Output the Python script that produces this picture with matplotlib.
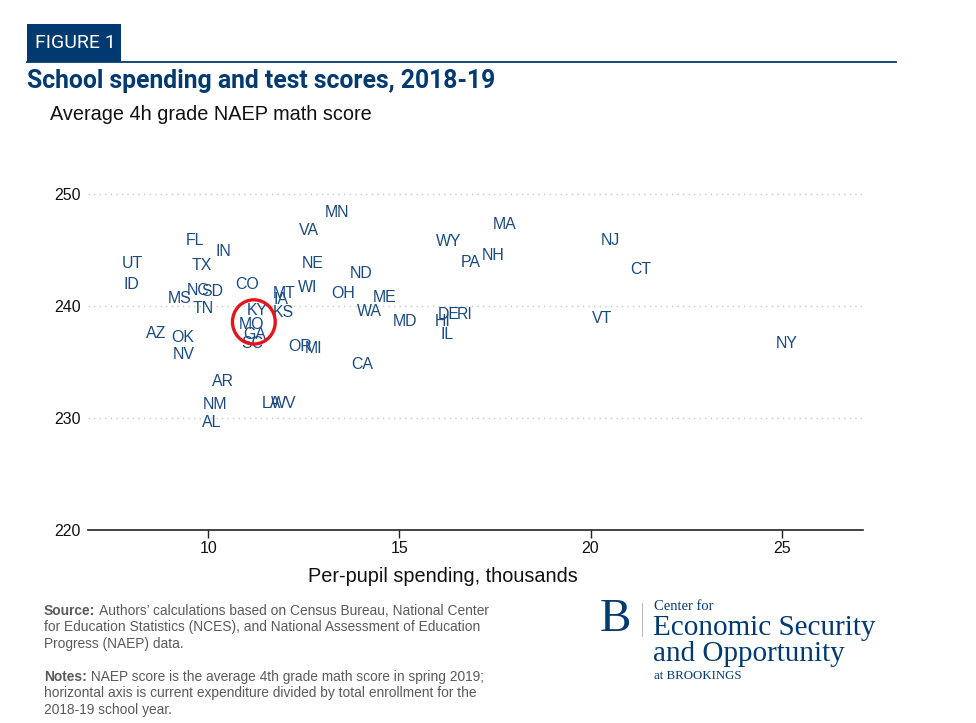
import matplotlib
matplotlib.use("Agg")
import matplotlib.pyplot as plt
from matplotlib.patches import Ellipse, Rectangle
from matplotlib.lines import Line2D

# ---------------- data ----------------
states = ["UT", "ID", "FL", "IN", "TX", "NC", "SD", "MS", "TN", "CO",
          "AZ", "OK", "NV", "KY", "MO", "GA", "SC", "MT", "IA", "KS",
          "NE", "WI", "VA", "MN", "OR", "MI", "OH", "ND", "ME", "WA",
          "CA", "MD", "AR", "NM", "AL", "LA", "WV", "WY", "MA", "PA",
          "NH", "DE", "RI", "HI", "IL", "NJ", "CT", "VT", "NY"]
spending = [8.01, 7.98, 9.65, 10.40, 9.83, 9.74, 10.10, 9.26, 9.87, 11.02,
            8.63, 9.33, 9.35, 11.27, 11.14, 11.22, 11.14, 11.99, 11.90, 11.95,
            12.72, 12.60, 12.63, 13.37, 12.41, 12.75, 13.53, 13.99, 14.60, 14.21,
            14.03, 15.15, 10.38, 10.17, 10.09, 11.66, 11.96, 16.30, 17.74, 16.86,
            17.45, 16.28, 16.71, 16.13, 16.24, 20.51, 21.31, 20.31, 25.13]
scores = [243.8, 241.9, 245.9, 244.9, 243.6, 241.4, 241.3, 240.7, 239.8, 241.9,
          237.6, 237.2, 235.7, 239.6, 238.4, 237.5, 236.7, 241.1, 240.6, 239.4,
          243.8, 241.7, 246.8, 248.4, 236.4, 236.2, 241.1, 242.9, 240.8, 239.5,
          234.8, 238.6, 233.3, 231.2, 229.6, 231.3, 231.3, 245.8, 247.3, 243.9,
          244.5, 239.3, 239.3, 238.6, 237.5, 245.9, 243.3, 238.9, 236.7]
x_ticks = [10, 15, 20, 25]
y_ticks = [220, 230, 240, 250]
highlight_center = (11.19, 238.6)

NAVY = "#003A70"
LABEL = "#1B4A7E"
W, H = 976, 723

def fx(px):
    return px / W

def fy(py):
    return 1 - py / H

fig = plt.figure(figsize=(9.76, 7.23), dpi=100)
fig.patch.set_facecolor("white")

ax = fig.add_axes([fx(88), fy(530), (863 - 88) / W, (530 - 172) / H])
ax.set_xlim(6.85, 27.13)
ax.set_ylim(220, 252)

for s, x, y in zip(states, spending, scores):
    ax.text(x, y, s, ha="center", va="center", fontsize=11.4,
            color=LABEL, family="Liberation Sans")

ax.add_patch(Ellipse(highlight_center, width=1.12, height=3.95,
                     fill=False, edgecolor="#E3141B", linewidth=2.4, zorder=5))

for sp in ["top", "right", "left"]:
    ax.spines[sp].set_visible(False)
ax.spines["bottom"].set_color("#222222")
ax.spines["bottom"].set_linewidth(1.2)
ax.set_xticks(x_ticks)
ax.set_yticks(y_ticks)
ax.tick_params(axis="x", direction="out", length=6, width=1, color="#222222",
               labelsize=11.5, pad=2)
ax.tick_params(axis="y", length=0, labelsize=11.5, pad=5)
for lab in ax.get_xticklabels() + ax.get_yticklabels():
    lab.set_family("Liberation Sans")
    lab.set_color("#111111")
for yv in y_ticks[1:]:
    ax.axhline(yv, color="#C8C8C8", linestyle=(0, (1, 3)), linewidth=1.0, zorder=0)

ax.set_xlabel("Per-pupil spending, thousands", fontsize=14.3,
              family="Liberation Sans", color="#111111")
ax.xaxis.set_label_coords((443 - 88) / 775, (530 - 577) / 358)
ax.xaxis.label.set_va("center")

# ---------------- header ----------------
fig.patches.append(Rectangle((fx(27), fy(61.5)), (121 - 27) / W, (61.5 - 24) / H,
                             transform=fig.transFigure, facecolor=NAVY,
                             edgecolor="none"))
fig.text(fx(35), fy(43), "FIGURE 1", color="white", fontsize=14,
         family="Roboto", va="center", ha="left")
fig.lines.append(Line2D([fx(27), fx(896)], [fy(61.5), fy(61.5)],
                        transform=fig.transFigure, color=NAVY, linewidth=1.3))
fig.text(fx(27), fy(81), "School spending and test scores, 2018-19", color=NAVY,
         fontsize=17.8, family="Roboto", weight="bold", va="center", ha="left")
fig.text(fx(50), fy(114), "Average 4h grade NAEP math score", color="#111111",
         fontsize=14.3, family="Liberation Sans", va="center", ha="left")

# ---------------- footer ----------------
fig.canvas.draw()
renderer = fig.canvas.get_renderer()
FS = 9.95

def mixed_line(px, py, bold, rest):
    t = fig.text(fx(px), fy(py), bold, fontsize=FS, family="Liberation Sans",
                 weight="bold", color="#5A5A5A", va="center", ha="left")
    bb = t.get_window_extent(renderer)
    fig.text(fx(px) + (bb.width + 0.5) / W, fy(py), rest, fontsize=FS,
             family="Liberation Sans", color="#5A5A5A", va="center", ha="left")

def plain_line(px, py, txt):
    fig.text(fx(px), fy(py), txt, fontsize=FS, family="Liberation Sans",
             color="#5A5A5A", va="center", ha="left")

mixed_line(44, 611, "Source:", " Authors\u2019 calculations based on Census Bureau, National Center")
plain_line(44, 627, "for Education Statistics (NCES), and National Assessment of Education")
plain_line(44, 644, "Progress (NAEP) data.")
mixed_line(44, 677, "Notes:", " NAEP score is the average 4th grade math score in spring 2019;")
plain_line(44, 693, "horizontal axis is current expenditure divided by total enrollment for the")
plain_line(44, 710, "2018-19 school year.")

# logo
fig.text(fx(600), fy(620), "B", fontsize=34, family="Liberation Serif",
         color=NAVY, va="center", ha="left")
fig.lines.append(Line2D([fx(642), fx(642)], [fy(603), fy(636)],
                        transform=fig.transFigure, color="#BBBBBB", linewidth=0.8))
fig.text(fx(654), fy(606), "Center for", fontsize=10.5, family="Liberation Serif",
         color=NAVY, va="center", ha="left")
fig.text(fx(653), fy(628), "Economic Security", fontsize=21, family="Liberation Serif",
         color=NAVY, va="center", ha="left")
fig.text(fx(653), fy(654), "and Opportunity", fontsize=21, family="Liberation Serif",
         color=NAVY, va="center", ha="left")
fig.text(fx(654), fy(676), "at BROOKINGS", fontsize=9.3, family="Liberation Serif",
         color=NAVY, va="center", ha="left")

fig.savefig("out.png", dpi=100, facecolor="white")
